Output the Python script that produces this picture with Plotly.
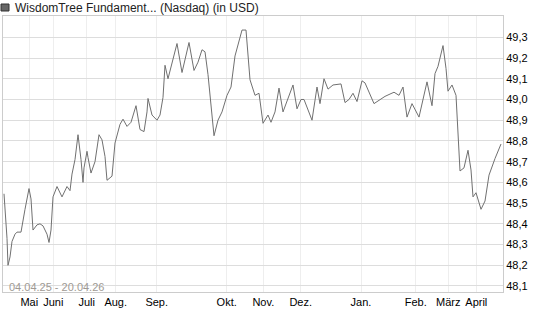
import plotly.graph_objects as go

# session index (trading-day order, uneven calendar spacing) and closing prices
sessions = [0, 2, 3, 4, 6, 8, 11, 13, 17, 21, 25, 27, 29, 33, 36, 39, 43, 45, 47, 49, 51, 53,
            58, 63, 66, 68, 71, 74, 77, 79, 80, 83, 84, 87, 91, 95, 98, 101,
            103, 108, 111, 113, 116, 119, 123, 127, 132, 136, 140, 143, 144, 148, 153, 156,
            159, 161, 164, 173, 178, 185, 190, 194, 198, 201,
            204, 210, 214, 218, 223, 227, 231, 238, 242, 246, 251, 255, 259, 264, 267, 271,
            275, 279, 289, 293, 297,
            300, 308, 313, 316, 320, 324, 329, 337, 341, 345, 349, 353, 358, 361, 370, 381,
            390, 395, 399, 403, 408, 415, 423, 428, 431, 434, 439, 442, 444, 448, 452, 454,
            456, 460, 464, 467, 469, 472, 477, 481, 485, 491, 497]
prices = [48.545, 48.42, 48.33, 48.20, 48.24, 48.315, 48.35, 48.36, 48.36, 48.47, 48.57, 48.52,
          48.37, 48.395, 48.40, 48.39, 48.35, 48.31, 48.37, 48.53, 48.56, 48.58,
          48.53, 48.58, 48.56, 48.64, 48.71, 48.83, 48.71, 48.60, 48.67, 48.75, 48.72, 48.645,
          48.70, 48.83, 48.805, 48.725,
          48.61, 48.63, 48.79, 48.825, 48.88, 48.905, 48.87, 48.89, 48.97, 48.855, 48.845,
          48.94, 49.005, 48.925, 48.90, 48.925,
          49.01, 49.165, 49.10, 49.27, 49.13, 49.275, 49.14, 49.18, 49.24, 49.23,
          49.12, 48.825, 48.90, 48.94, 49.02, 49.06, 49.21, 49.335, 49.335, 49.095, 49.02,
          49.03, 48.885, 48.925, 48.89, 48.94,
          49.055, 48.94, 49.07, 48.955, 49.00,
          49.00, 48.90, 49.06, 48.98, 49.10, 49.05, 49.07, 49.075, 48.985, 49.00, 49.03,
          48.99, 49.09, 49.08, 48.98, 49.015,
          49.035, 49.02, 49.06, 48.915, 48.98, 48.915, 49.085, 48.97, 49.125, 49.16, 49.26,
          49.15, 49.04, 49.07, 49.02, 48.80,
          48.655, 48.67, 48.755, 48.66, 48.53, 48.55, 48.47, 48.51, 48.635, 48.715, 48.785]

month_ticks = [25.3, 49.3, 82.7, 111.7, 152.7, 222.7, 259.3, 296.7, 357.0, 411.7, 444.3, 472.3]
month_labels = ["Mai", "Juni", "Juli", "Aug.", "Sep.", "Okt.", "Nov.", "Dez.", "Jan.", "Feb.",
                "März", "April"]
y_ticks = [48.1, 48.2, 48.3, 48.4, 48.5, 48.6, 48.7, 48.8, 48.9, 49.0, 49.1, 49.2, 49.3]

title_text = "WisdomTree Fundament... (Nasdaq) (in USD)"
range_text = "04.04.25 - 20.04.26"

fig = go.Figure()
fig.add_trace(go.Scatter(x=sessions, y=prices, mode="lines",
                         line=dict(color="#707070", width=1), hoverinfo="skip"))

font = "Liberation Sans, Arial, sans-serif"
fig.update_layout(
    width=545, height=327,
    margin=dict(l=3, r=42, t=16, b=35),
    paper_bgcolor="white", plot_bgcolor="white",
    showlegend=False,
    separators=",.",
    font=dict(family=font, size=11, color="#000000"),
    xaxis=dict(range=[-1, 499], tickvals=month_ticks, ticktext=month_labels,
               showgrid=True, gridcolor="#eeeeee", gridwidth=1, zeroline=False,
               showline=True, mirror=True, linecolor="#cccccc", linewidth=1,
               ticks="", tickfont=dict(size=11, color="#000000", family=font)),
    yaxis=dict(range=[48.071, 49.4028], side="right", tickvals=y_ticks, tickformat=".1f",
               showgrid=True, gridcolor="#dddddd", gridwidth=1, zeroline=False,
               showline=True, mirror=True, linecolor="#cccccc", linewidth=1,
               ticks="", tickfont=dict(size=11, color="#000000", family=font)),
)

fig.add_shape(type="rect", xref="paper", yref="paper",
              x0=-2 / 500, x1=6 / 500, y0=(292 - 11) / 276, y1=(292 - 4) / 276,
              fillcolor="#666666", line=dict(color="#333333", width=1))
fig.add_annotation(text=title_text, xref="paper", yref="paper",
                   x=10 / 500, y=(292 - 8) / 276, xanchor="left", yanchor="middle",
                   showarrow=False, font=dict(size=12, color="#222222", family=font))
fig.add_annotation(text=range_text, xref="paper", yref="paper",
                   x=4 / 500, y=(292 - 287) / 276, xanchor="left", yanchor="middle",
                   showarrow=False, font=dict(size=11, color="#a09a94", family=font))

fig.write_html("out.html")
